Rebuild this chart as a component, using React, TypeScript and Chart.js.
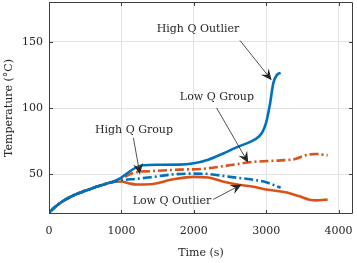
import React, { useEffect, useRef } from "react";
import { Chart, registerables } from "chart.js";
Chart.register(...registerables);

// High Q Outlier (blue solid)
const hqoTime = [0, 100, 200, 300, 400, 500, 600, 700, 800, 900, 1000, 1100, 1200, 1300, 1500, 1800, 2000, 2200, 2400, 2600, 2800, 2900, 2950, 3000, 3050, 3100, 3150, 3200];
const hqoTemp = [21, 26, 30, 33, 35.5, 37.5, 39.5, 41.3, 43, 44.8, 47.5, 51.5, 55, 56.8, 57.2, 57.3, 58.3, 61, 65.5, 70.5, 75, 78.5, 82, 89, 102, 119, 125, 126.5];

// High Q Group (blue dash-dot)
const hqgTime = [0, 100, 200, 300, 400, 500, 600, 700, 800, 900, 1000, 1200, 1400, 1700, 2000, 2200, 2500, 2800, 3000, 3100, 3200];
const hqgTemp = [21, 26, 30, 33, 35.5, 37.5, 39.5, 41.3, 43, 44.3, 45.5, 46.5, 47.7, 49.8, 50.5, 50.2, 48, 46, 44, 42, 39.8];

// Low Q Group (orange dash-dot)
const lqgTime = [0, 100, 200, 300, 400, 500, 600, 700, 800, 900, 1000, 1100, 1200, 1400, 1800, 2100, 2400, 2800, 3200, 3400, 3500, 3600, 3700, 3850];
const lqgTemp = [21, 26, 30, 33, 35.5, 37.5, 39.5, 41.3, 43, 44.5, 46.5, 49.5, 51.5, 52.3, 53.5, 54, 56, 59.2, 60.5, 61.5, 63.5, 65, 65.3, 64.3];

// Low Q Outlier (orange solid)
const lqoTime = [0, 100, 200, 300, 400, 500, 600, 700, 800, 900, 1000, 1100, 1200, 1400, 1700, 2000, 2200, 2400, 2600, 2800, 3000, 3300, 3450, 3600, 3700, 3850];
const lqoTemp = [21, 26, 30, 33, 35.5, 37.5, 39.5, 41.3, 43, 44.3, 44.5, 43.2, 42.3, 42.5, 46, 48, 47.5, 44.5, 42.2, 40.8, 38.5, 36, 33.5, 30.8, 30.3, 31];

const xTicks = [0, 1000, 2000, 3000, 4000];
const yTicks = [50, 100, 150];

const annotationTexts = ["High Q Outlier", "Low Q Group", "High Q Group", "Low Q Outlier"];
const annotationTextX = [2058, 2320, 1174, 1699];
const annotationTextY = [159.5, 108, 83.5, 29.7];
const arrowFromX = [2638, 2316, 1166, 2269];
const arrowFromY = [151, 100, 77.4, 31];
const arrowToX = [3076, 2753, 1257, 2661];
const arrowToY = [121, 58.6, 49.8, 42.3];

const BLUE = "#0072BD";
const ORANGE = "#D95319";
const FONT = "'DejaVu Serif', serif";

function toPts(xs: number[], ys: number[]) {
  return xs.map((x, i) => ({ x, y: ys[i] }));
}

function drawArrow(ctx: CanvasRenderingContext2D, x1: number, y1: number, x2: number, y2: number) {
  const ang = Math.atan2(y2 - y1, x2 - x1);
  const len = 11;
  const half = 5;
  const notch = 4;
  ctx.save();
  ctx.strokeStyle = "#262626";
  ctx.fillStyle = "#262626";
  ctx.lineWidth = 0.8;
  ctx.beginPath();
  ctx.moveTo(x1, y1);
  ctx.lineTo(x2 - Math.cos(ang) * (len - notch), y2 - Math.sin(ang) * (len - notch));
  ctx.stroke();
  ctx.translate(x2, y2);
  ctx.rotate(ang);
  ctx.beginPath();
  ctx.moveTo(0, 0);
  ctx.lineTo(-len, -half);
  ctx.lineTo(-len + notch, 0);
  ctx.lineTo(-len, half);
  ctx.closePath();
  ctx.fill();
  ctx.restore();
}

const boxPlugin = {
  id: "boxAndAnnotations",
  afterDatasetsDraw(chart: any) {
    const { ctx, chartArea, scales } = chart;
    const { left, right, top, bottom } = chartArea;
    const xs = scales.x;
    const ys = scales.y;
    ctx.save();
    ctx.strokeStyle = "#404040";
    ctx.lineWidth = 1;
    ctx.beginPath();
    ctx.rect(left + 0.5, top + 0.5, right - left - 1, bottom - top - 1);
    ctx.stroke();
    ctx.beginPath();
    for (const v of xTicks) {
      const px = Math.round(xs.getPixelForValue(v)) + 0.5;
      ctx.moveTo(px, bottom);
      ctx.lineTo(px, bottom - 4);
      ctx.moveTo(px, top);
      ctx.lineTo(px, top + 4);
    }
    for (const v of yTicks) {
      const py = Math.round(ys.getPixelForValue(v)) + 0.5;
      ctx.moveTo(left, py);
      ctx.lineTo(left + 4, py);
      ctx.moveTo(right, py);
      ctx.lineTo(right - 4, py);
    }
    ctx.stroke();
    ctx.restore();

    ctx.save();
    ctx.font = "11px " + FONT;
    ctx.fillStyle = "#262626";
    ctx.textAlign = "center";
    ctx.textBaseline = "middle";
    annotationTexts.forEach((t, i) => {
      ctx.fillText(t, xs.getPixelForValue(annotationTextX[i]), ys.getPixelForValue(annotationTextY[i]));
      drawArrow(
        ctx,
        xs.getPixelForValue(arrowFromX[i]),
        ys.getPixelForValue(arrowFromY[i]),
        xs.getPixelForValue(arrowToX[i]),
        ys.getPixelForValue(arrowToY[i])
      );
    });
    ctx.restore();
  },
};

export default function App() {
  const ref = useRef<HTMLCanvasElement | null>(null);
  useEffect(() => {
    document.body.style.margin = "0";
    if (!ref.current) return;
    const dashDot = [9, 3, 2, 3];
    const chart = new Chart(ref.current, {
      type: "line",
      data: {
        datasets: [
          { label: "High Q Outlier", data: toPts(hqoTime, hqoTemp), borderColor: BLUE, borderWidth: 2.6, pointRadius: 0, cubicInterpolationMode: "monotone", fill: false },
          { label: "High Q Group", data: toPts(hqgTime, hqgTemp), borderColor: BLUE, borderWidth: 2.6, borderDash: dashDot, pointRadius: 0, cubicInterpolationMode: "monotone", fill: false },
          { label: "Low Q Group", data: toPts(lqgTime, lqgTemp), borderColor: ORANGE, borderWidth: 2.6, borderDash: dashDot, pointRadius: 0, cubicInterpolationMode: "monotone", fill: false },
          { label: "Low Q Outlier", data: toPts(lqoTime, lqoTemp), borderColor: ORANGE, borderWidth: 2.6, pointRadius: 0, cubicInterpolationMode: "monotone", fill: false },
        ],
      },
      options: {
        responsive: false,
        animation: false,
        devicePixelRatio: 1,
        layout: { padding: { top: 2, right: 4, left: 0, bottom: 0 } },
        plugins: { legend: { display: false }, tooltip: { enabled: false } },
        scales: {
          x: {
            type: "linear",
            min: 0,
            max: 4200,
            afterBuildTicks: (s: any) => { s.ticks = xTicks.map((v) => ({ value: v })); },
            afterFit: (s: any) => { s.height = 49; s.paddingLeft = 0; s.paddingRight = 0; },
            grid: { color: "#e3e3e3", drawTicks: false },
            border: { display: false },
            ticks: { color: "#262626", font: { family: FONT, size: 11 }, padding: 11, maxRotation: 0, callback: (v: any) => String(v) },
            title: { display: true, text: "Time (s)", color: "#262626", font: { family: FONT, size: 11 }, padding: { top: 0, bottom: 3 } },
          },
          y: {
            type: "linear",
            min: 20,
            max: 180,
            afterBuildTicks: (s: any) => { s.ticks = yTicks.map((v) => ({ value: v })); },
            afterFit: (s: any) => { s.width = 49; s.paddingTop = 0; s.paddingBottom = 0; },
            grid: { color: "#e3e3e3", drawTicks: false },
            border: { display: false },
            ticks: { color: "#262626", font: { family: FONT, size: 11 }, padding: 6, callback: (v: any) => String(v) },
            title: { display: true, text: "Temperature (°C)", color: "#262626", font: { family: FONT, size: 11 }, padding: { top: 3, bottom: 0 } },
          },
        },
      },
      plugins: [boxPlugin],
    } as any);
    return () => chart.destroy();
  }, []);
  return <canvas ref={ref} width={357} height={263} style={{ display: "block" }} />;
}
